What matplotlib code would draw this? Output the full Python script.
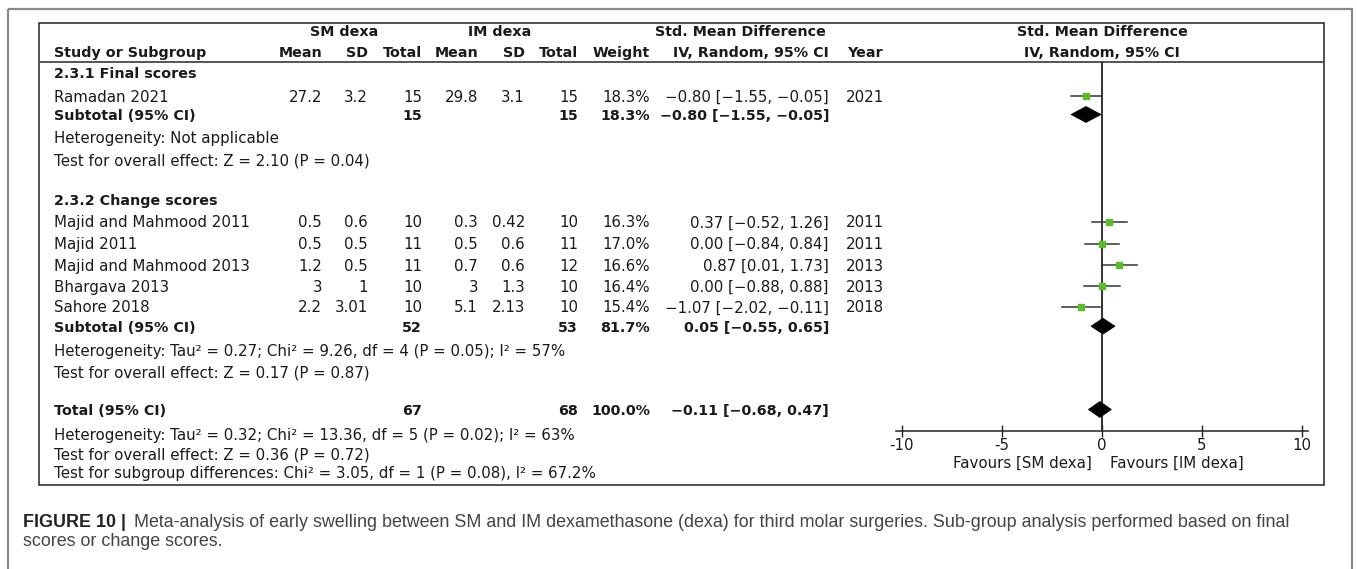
import matplotlib
matplotlib.use("Agg")
import matplotlib.pyplot as plt
from matplotlib.patches import Rectangle, Polygon

plt.rcParams["font.family"] = ["DejaVu Sans"]
plt.rcParams["axes.unicode_minus"] = False

# study data
studies = ["Ramadan 2021", "Majid and Mahmood 2011", "Majid 2011",
           "Majid and Mahmood 2013", "Bhargava 2013", "Sahore 2018"]
sm_mean = [27.2, 0.5, 0.5, 1.2, 3, 2.2]
sm_sd = [3.2, 0.6, 0.5, 0.5, 1, 3.01]
sm_n = [15, 10, 11, 11, 10, 10]
im_mean = [29.8, 0.3, 0.5, 0.7, 3, 5.1]
im_sd = [3.1, 0.42, 0.6, 0.6, 1.3, 2.13]
im_n = [15, 10, 11, 12, 10, 10]
weight = [18.3, 16.3, 17.0, 16.6, 16.4, 15.4]
smd = [-0.80, 0.37, 0.00, 0.87, 0.00, -1.07]
ci_lo = [-1.55, -0.52, -0.84, 0.01, -0.88, -2.02]
ci_hi = [-0.05, 1.26, 0.84, 1.73, 0.88, -0.11]
year = [2021, 2011, 2011, 2013, 2013, 2018]

subgroups = ["2.3.1 Final scores", "2.3.2 Change scores"]
sub_n_sm = [15, 52]
sub_n_im = [15, 53]
sub_weight = [18.3, 81.7]
sub_smd = [-0.80, 0.05]
sub_lo = [-1.55, -0.55]
sub_hi = [-0.05, 0.65]
sub_het = ["Heterogeneity: Not applicable",
           "Heterogeneity: Tau² = 0.27; Chi² = 9.26, df = 4 (P = 0.05); I² = 57%"]
sub_test = ["Test for overall effect: Z = 2.10 (P = 0.04)",
            "Test for overall effect: Z = 0.17 (P = 0.87)"]

tot_n_sm, tot_n_im, tot_weight = 67, 68, 100.0
tot_smd, tot_lo, tot_hi = -0.11, -0.68, 0.47
tot_notes = ["Heterogeneity: Tau² = 0.32; Chi² = 13.36, df = 5 (P = 0.02); I² = 63%",
             "Test for overall effect: Z = 0.36 (P = 0.72)",
             "Test for subgroup differences: Chi² = 3.05, df = 1 (P = 0.08), I² = 67.2%"]

# layout: text baselines (pixels from top)
study_base = [101.7, 227.3, 249, 270.7, 291.7, 312.3]
head_base = [78, 205]
sub_base = [120, 331.7]
het_base = [143, 355.7]
test_base = [165.7, 377.3]
tot_base = 415
tot_note_base = [440, 459, 478]

W, H = 1357, 569
fig = plt.figure(figsize=(W / 100, H / 100), dpi=100)
cv = fig.add_axes([0, 0, 1, 1])
cv.set_xlim(0, W)
cv.set_ylim(H, 0)
cv.axis("off")

TXT = "#1a1a1a"
FS = 10.8
FSB = 10.3


def fmt(v):
    return f"{v:g}"


def ci_text(e, l, h):
    return f"{e:.2f} [{l:.2f}, {h:.2f}]".replace("-", "−")


def put(x, y, s, ha="left", bold=False, color=TXT):
    return cv.text(x, y, s, ha=ha, va="baseline", fontsize=FSB if bold else FS,
                   color=color, fontweight="bold" if bold else "normal")


# frames
cv.add_patch(Rectangle((8, 9), 1344, 600, fill=False, ec="#8a8a8a", lw=1.6))
cv.add_patch(Rectangle((39, 22.7), 1285, 462.3, fill=False, ec="#222222", lw=1.1))
cv.plot([39, 1324], [62, 62], color="#555555", lw=1.4)

# column positions (right edges)
X_NAME = 54
X_SM = [322, 368, 422]
X_IM = [478, 525, 578]
X_W = 650
X_CI = 829
X_YR = 865

# header
put(344, 36, "SM dexa", ha="center", bold=True)
put(500, 36, "IM dexa", ha="center", bold=True)
put(740, 36, "Std. Mean Difference", ha="center", bold=True)
put(1102, 36, "Std. Mean Difference", ha="center", bold=True)
put(X_NAME, 57, "Study or Subgroup", bold=True)
for x, s in zip(X_SM + X_IM, ["Mean", "SD", "Total"] * 2):
    put(x, 57, s, ha="right", bold=True)
put(X_W, 57, "Weight", ha="right", bold=True)
put(X_CI, 57, "IV, Random, 95% CI", ha="right", bold=True)
put(X_YR, 57, "Year", ha="center", bold=True)
put(1102, 57, "IV, Random, 95% CI", ha="center", bold=True)

# study rows
for i, name in enumerate(studies):
    y = study_base[i]
    put(X_NAME, y, name)
    for x, v in zip(X_SM + X_IM, [sm_mean[i], sm_sd[i], sm_n[i],
                                   im_mean[i], im_sd[i], im_n[i]]):
        put(x, y, fmt(v), ha="right")
    put(X_W, y, f"{weight[i]:.1f}%", ha="right")
    put(X_CI, y, ci_text(smd[i], ci_lo[i], ci_hi[i]), ha="right")
    put(X_YR, y, str(year[i]), ha="center")

# subgroup rows
for g in range(2):
    put(X_NAME, head_base[g], subgroups[g], bold=True)
    y = sub_base[g]
    put(X_NAME, y, "Subtotal (95% CI)", bold=True)
    put(X_SM[2], y, str(sub_n_sm[g]), ha="right", bold=True)
    put(X_IM[2], y, str(sub_n_im[g]), ha="right", bold=True)
    put(X_W, y, f"{sub_weight[g]:.1f}%", ha="right", bold=True)
    put(X_CI, y, ci_text(sub_smd[g], sub_lo[g], sub_hi[g]), ha="right", bold=True)
    put(X_NAME, het_base[g], sub_het[g])
    put(X_NAME, test_base[g], sub_test[g])

# total
put(X_NAME, tot_base, "Total (95% CI)", bold=True)
put(X_SM[2], tot_base, str(tot_n_sm), ha="right", bold=True)
put(X_IM[2], tot_base, str(tot_n_im), ha="right", bold=True)
put(X_W, tot_base, f"{tot_weight:.1f}%", ha="right", bold=True)
put(X_CI, tot_base, ci_text(tot_smd, tot_lo, tot_hi), ha="right", bold=True)
for s, y in zip(tot_notes, tot_note_base):
    put(X_NAME, y, s)

# forest plot axes: x 0 at px 1102, 20 px per unit; y in pixel rows
ax = fig.add_axes([896 / W, 1 - 431 / H, 412 / W, (431 - 62) / H])
ax.patch.set_alpha(0)
ax.set_xlim(-10.3, 10.3)
ax.set_ylim(431, 62)
for sp in ["top", "left", "right"]:
    ax.spines[sp].set_visible(False)
ax.spines["bottom"].set_color("#222222")
ax.spines["bottom"].set_linewidth(1.1)
ax.set_yticks([])
ax.set_xticks([-10, -5, 0, 5, 10])
ax.tick_params(axis="x", direction="inout", length=8, width=1, color="#222222",
               labelsize=FS, labelcolor=TXT, pad=1)
ax.axvline(0, color="#111111", lw=1.2, zorder=1)

OFF = 5.5
for i in range(len(studies)):
    yc = study_base[i] - OFF
    ax.plot([ci_lo[i], ci_hi[i]], [yc, yc], color="#333333", lw=1.1, zorder=2)
    ax.plot(smd[i], yc, marker="s", ms=4.2 * (weight[i] / 16.6) ** 0.5,
            color="#5dbb2c", mec="#5dbb2c", zorder=3)


def diamond(e, l, h, yc):
    ax.add_patch(Polygon([(l, yc), (e, yc - 8), (h, yc), (e, yc + 8)],
                         closed=True, fc="black", ec="black", lw=0.5, zorder=4))


for g in range(2):
    diamond(sub_smd[g], sub_lo[g], sub_hi[g], sub_base[g] - OFF)
diamond(tot_smd, tot_lo, tot_hi, tot_base - OFF)

put(1092, 468, "Favours [SM dexa]", ha="right")
put(1110, 468, "Favours [IM dexa]")

# caption
CAPF = ["Liberation Sans", "DejaVu Sans"]
CAPS = 12.9
cap = ("Meta-analysis of early swelling between SM and IM dexamethasone (dexa) for "
       "third molar surgeries. Sub-group analysis performed based on final")
cv.text(23, 527, "FIGURE 10 |", ha="left", va="baseline", fontsize=CAPS,
        fontweight="bold", color="#222222", family=CAPF)
cv.text(134, 527, cap, ha="left", va="baseline", fontsize=CAPS,
        color="#444444", family=CAPF)
cv.text(23, 546, "scores or change scores.", ha="left", va="baseline", fontsize=CAPS,
        color="#444444", family=CAPF)

fig.savefig("out.png", dpi=100)
